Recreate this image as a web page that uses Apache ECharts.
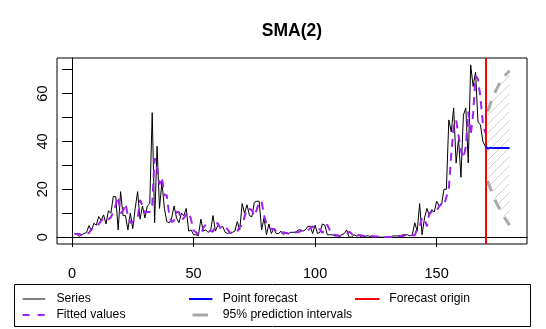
<!DOCTYPE html>
<html><head><meta charset="utf-8">
<script src="https://cdn.jsdelivr.net/npm/echarts@6/dist/echarts.min.js"></script>
<style>html,body{margin:0;padding:0;background:#fff}#c{width:546px;height:329px}</style>
</head><body><div id="c"></div>
<script>
// ---- data ----
const seriesValues = [1.5,1.2,0.3,1,1.5,2,4.8,2.6,5.8,5, 8.6,7,9.3,5.5,11,10,17,17,3,19, 9,9,3,10,3.5,12,19,7.5,13,8, 13,14,52,6,38,12,23,12,6.5,6, 8,13,8,6,10,9,12,2.5,3,1, 1,0.5,7.5,2.5,3,2,2.5,9,2.5,5, 4,4.5,2,1.5,2,2,2.5,6.5,3,14, 10,13.5,9,8.5,14.5,15,15,3,8,1, 5.5,1.5,3.5,1.5,1.5,2.5,1,2,1.5,2, 2,2,3,3,2.5,3,4.5,4.5,1.5,5, 1.5,2,5.5,5,1,1,1,0.5,0.5,0.5, 1,1.5,3,0,0,1,0.5,1,0,0, 0.5,0.5,0,0.5,0,0,0,0,0,0, 0,0.5,0.5,0.5,0.5,1,1,1,0.5,1, 6,2.5,14,1,8,12,9,11.5,10.5,15, 13,13.5,20,20,49,44,54,31,41,25, 51,54,31,72,63,69,48,47,40,38];
const fittedValues = [1.3,1.3,1.35,0.75,0.65,1.25,1.75,3.4,3.7,4.2, 5.4,6.8,7.8,8.15,7.4,8.25,10.5,13.5,17,10, 11,14,9,6,6.5,6.75,7.75,15.5,13.25,10.25, 10.5,10.5,13.5,33,29,22,25,17.5,17.5,9.25, 6.25,7,10.5,10.5,7,8,9.5,10.5,7.25,2.75, 2,1,0.75,4,5,2.75,2.5,2.25,5.75,5.75, 3.75,4.5,4.25,3.25,1.75,1.75,2,2.25,4.5,4.75, 8.5,12,11.75,11.25,8.75,11.5,14.75,15,9,5.5, 4.5,3.25,3.5,2.5,2.5,1.5,2,1.75,1.5,1.75, 1.75,2,2,2.5,3,2.75,2.75,3.75,4.5,3, 3.25,3.25,1.75,3.75,5.25,3,1,1,0.75,0.5, 0.5,0.75,1.25,2.25,1.5,0,0.5,0.75,0.75,0.5, 0,0.25,0.5,0.25,0.25,0.25,0,0,0,0, 0,0,0.25,0.5,0.5,0.5,0.75,1,1,0.75, 0.75,3.5,4.25,8.25,7.5,4.5,10,10.5,10.25,11, 12.75,14,13.25,16.75,20,34.5,46.5,49,42.5,36, 33,38,52.5,42.5,51.5,67.5,66,58.5,47.5,43.5];
const forecastStart = 171;
const forecastValues = [37,37.4,37.2,37.3,37.3,37.3,37.3,37.3,37.3,37.3];
const upperPI = [52.5,55.5,58,60.5,62.5,64.5,66,67.5,68.5,69.5];
const lowerPI = [23.5,20.5,18,15.5,13.5,11.5,9.5,8,6.5,5];
const forecastOrigin = 170;
const xTicks = [0,50,100,150];
const yTicks = [0,10,20,30,40,50,60,70];
const yLabels = [0,20,40,60];
const titleText = 'SMA(2)';
const legendItems = ['Series','Fitted values','Point forecast','95% prediction intervals','Forecast origin'];

// ---- build ----
const FONT = "'Liberation Sans', Arial, Helvetica, sans-serif";
const nObs = seriesValues.length;
const obs = seriesValues.map((v,i)=>[i+1,v]);
const fit = fittedValues.map((v,i)=>[i+1,v]);
const fc = [[nObs, seriesValues[nObs-1]]].concat(forecastValues.map((v,i)=>[forecastStart+i,v]));
const up = upperPI.map((v,i)=>[forecastStart+i,v]);
const lo = lowerPI.map((v,i)=>[forecastStart+i,v]);

// hatch pattern
const P = 9;
const pc = document.createElement('canvas'); pc.width = P; pc.height = P;
const g = pc.getContext('2d');
g.strokeStyle = '#cfcfcf'; g.lineWidth = 1;
g.beginPath();
g.moveTo(-1,1); g.lineTo(1,-1);
g.moveTo(0,P); g.lineTo(P,0);
g.moveTo(P-1,P+1); g.lineTo(P+1,P-1);
g.stroke();

const chart = echarts.init(document.getElementById('c'), null, {renderer:'canvas'});

const legendG = [];
legendG.push({type:'rect', shape:{x:14.5,y:284.5,width:516,height:42}, style:{fill:'none', stroke:'#000', lineWidth:1}});
function legLine(x1,x2,y,color,w,dash){
  legendG.push({type:'line', shape:{x1:x1,y1:y,x2:x2,y2:y}, style:{stroke:color, lineWidth:w, lineDash:dash||null}});
}
function legText(x,y,t){
  legendG.push({type:'text', x:x, y:y, style:{text:t, font:'12.2px '+FONT, fill:'#000', textAlign:'left', textVerticalAlign:'middle'}});
}
legLine(22.6,45.3,299,'#000',1);            legText(56.4,299,legendItems[0]);
legLine(22.6,45.3,315,'#A020F0',2,[7,8]);   legText(56.4,315,legendItems[1]);
legLine(189,212.4,299,'#0000FF',2);         legText(222.8,299,legendItems[2]);
legLine(192.5,208,315,'#A9A9A9',3);         legText(222.8,315,legendItems[3]);
legLine(355,379.5,299,'#FF0000',2);         legText(389.3,299,legendItems[4]);

chart.setOption({
  animation:false,
  grid:{left:57, right:19, top:58, bottom:85, show:true, borderColor:'#000', borderWidth:1, backgroundColor:'transparent'},
  xAxis:{type:'value', min:-6.16, max:187.16,
    axisLine:{show:true, lineStyle:{color:'#000', width:1}},
    splitLine:{show:false},
    axisTick:{show:true, length:10, customValues:xTicks, lineStyle:{color:'#000'}},
    axisLabel:{customValues:xTicks, color:'#000', fontSize:14.5, fontFamily:FONT, margin:22}},
  yAxis:{type:'value', min:-2.88, max:74.88,
    axisLine:{show:true, lineStyle:{color:'#000', width:1}},
    splitLine:{show:false},
    axisTick:{show:true, length:10, customValues:yTicks, lineStyle:{color:'#000'}},
    axisLabel:{customValues:yLabels, color:'#000', fontSize:14.5, fontFamily:FONT, rotate:90, margin:7}},
  series:[
    {type:'custom', coordinateSystem:'cartesian2d', silent:true, z:1, data:[[forecastStart, upperPI[0]]],
      renderItem:function(params, api){
        const pts = [];
        for (let i=0;i<up.length;i++) pts.push(api.coord(up[i]));
        for (let i=lo.length-1;i>=0;i--) pts.push(api.coord(lo[i]));
        return {type:'polygon', shape:{points:pts}, style:{fill:{image:pc, repeat:'repeat'}, stroke:null}};
      }},
    {type:'line', data:up, showSymbol:false, z:2, lineStyle:{color:'#A9A9A9', width:3, type:[11,9]}},
    {type:'line', data:lo, showSymbol:false, z:2, lineStyle:{color:'#A9A9A9', width:3, type:[11,9]}},
    {type:'line', data:obs, showSymbol:false, z:3, lineStyle:{color:'#000', width:1},
      markLine:{silent:true, symbol:['none','none'], label:{show:false}, animation:false,
        lineStyle:{color:'#FF0000', width:2, type:'solid'}, data:[{xAxis:forecastOrigin}]}},
    {type:'line', data:fit, showSymbol:false, z:4, lineStyle:{color:'#A020F0', width:2, type:[8,6]}},
    {type:'line', data:fc, showSymbol:false, z:5, lineStyle:{color:'#0000FF', width:2}}
  ],
  graphic:[
    {type:'text', x:292, y:31, style:{text:titleText, font:'bold 17.5px '+FONT, fill:'#000', textAlign:'center', textVerticalAlign:'middle'}}
  ].concat(legendG)
});
</script></body></html>
